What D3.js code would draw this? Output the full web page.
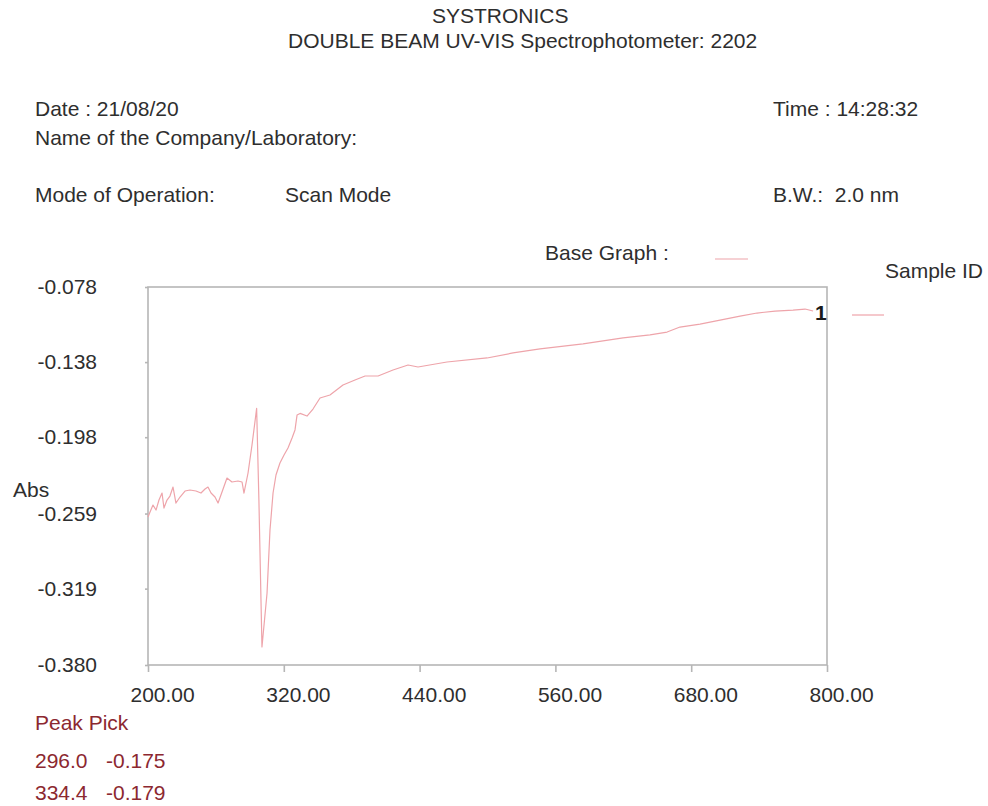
<!DOCTYPE html>
<html>
<head>
<meta charset="utf-8">
<script src="https://cdn.jsdelivr.net/npm/d3@7"></script>
<style>
  html, body { margin: 0; padding: 0; background: #fff; }
  svg { display: block; font-family: "Liberation Sans", Arial, sans-serif; }
  text { white-space: pre; }
</style>
</head>
<body>
<svg id="chart" width="988" height="806"></svg>
<script>
// Scan: wavelength (nm) against absorbance
const wavelength = [
  200.0, 201.8, 204.4, 207.1, 209.7, 212.4, 214.1, 216.8, 219.4, 222.1,
  224.7, 228.3, 232.7, 237.1, 242.4, 246.8, 250.4, 253.0, 255.7, 259.2,
  261.9, 265.4, 269.8, 274.2, 279.5, 283.1, 284.8, 288.4, 291.9, 296.0,
  298.0, 300.7, 305.2, 307.8, 310.5, 313.1, 316.6, 320.2, 323.7, 327.3,
  329.9, 331.7, 334.4, 340.5, 345.8, 352.0, 360.8, 372.3, 382.9, 391.8,
  403.3, 416.5, 429.8, 438.6, 464.2, 499.6, 522.6, 546.4, 584.4, 619.8,
  643.6, 658.7, 670.1, 687.8, 705.5, 723.2, 738.2, 754.1, 770.0, 780.6,
  787.7
];
const absorbance = [
  -0.2618, -0.2578, -0.2522, -0.2562, -0.2482, -0.2426, -0.2546, -0.2482, -0.2450, -0.2378,
  -0.2506, -0.2458, -0.2410, -0.2402, -0.2410, -0.2426, -0.2394, -0.2378, -0.2426, -0.2458,
  -0.2506, -0.2418, -0.2306, -0.2338, -0.2330, -0.2338, -0.2426, -0.2266, -0.2042, -0.1750,
  -0.2482, -0.3656, -0.3225, -0.2722, -0.2426, -0.2282, -0.2186, -0.2122, -0.2066, -0.1986,
  -0.1922, -0.1803, -0.1790, -0.1811, -0.1755, -0.1667, -0.1643, -0.1563, -0.1523, -0.1491,
  -0.1491, -0.1443, -0.1403, -0.1419, -0.1379, -0.1347, -0.1307, -0.1275, -0.1235, -0.1187,
  -0.1163, -0.1140, -0.1100, -0.1076, -0.1044, -0.1012, -0.0988, -0.0972, -0.0964, -0.0956,
  -0.0972
];

const xTickLabels = ["200.00", "320.00", "440.00", "560.00", "680.00", "800.00"];
const yTickLabels = ["-0.078", "-0.138", "-0.198", "-0.259", "-0.319", "-0.380"];

// Peak pick table: wavelength, absorbance
const peakWavelength = ["296.0", "334.4"];
const peakAbsorbance = ["-0.175", "-0.179"];

const svg = d3.select("#chart");
const textColor = "#2e2e2e";
const traceColor = "#eea4aa";
const frameColor = "#b6b6b6";
const peakColor = "#8c2830";
const fontSize = 21;

const plot = { left: 148, right: 827, top: 287, bottom: 665 };

const x = d3.scaleLinear().domain([200, 800]).range([plot.left, plot.right]);
const y = d3.scaleLinear().domain([-0.380, -0.078]).range([plot.bottom, plot.top]);

// Header block
const header = svg.append("g").attr("fill", textColor).attr("font-size", fontSize);
header.append("text").attr("x", 432).attr("y", 23).text("SYSTRONICS");
header.append("text").attr("x", 288).attr("y", 48)
  .text("DOUBLE BEAM UV-VIS Spectrophotometer: 2202");
header.append("text").attr("x", 35).attr("y", 116).text("Date : 21/08/20");
header.append("text").attr("x", 773).attr("y", 116).text("Time : 14:28:32");
header.append("text").attr("x", 35).attr("y", 145).text("Name of the Company/Laboratory:");
header.append("text").attr("x", 35).attr("y", 202).text("Mode of Operation:");
header.append("text").attr("x", 285).attr("y", 202).text("Scan Mode");
header.append("text").attr("x", 773).attr("y", 202).text("B.W.:  2.0 nm");
header.append("text").attr("x", 545).attr("y", 260).text("Base Graph :");
header.append("text").attr("x", 885).attr("y", 278).text("Sample ID");

// Legend swatches
svg.append("line").attr("x1", 715).attr("x2", 748).attr("y1", 259).attr("y2", 259)
  .attr("stroke", traceColor).attr("stroke-width", 1.2);
svg.append("line").attr("x1", 852).attr("x2", 884).attr("y1", 315).attr("y2", 315)
  .attr("stroke", traceColor).attr("stroke-width", 1.2);

// Frame
svg.append("rect")
  .attr("x", plot.left).attr("y", plot.top)
  .attr("width", plot.right - plot.left).attr("height", plot.bottom - plot.top)
  .attr("fill", "none").attr("stroke", frameColor).attr("stroke-width", 1.6);

// Axes
const xAxis = d3.axisBottom(x)
  .tickValues(xTickLabels.map(Number))
  .tickFormat((d, i) => xTickLabels[i])
  .tickSize(7).tickPadding(18);
const gx = svg.append("g").attr("transform", `translate(0,${plot.bottom})`).call(xAxis);

const yAxis = d3.axisLeft(y)
  .tickValues(yTickLabels.map(Number))
  .tickFormat((d, i) => yTickLabels[i])
  .tickSize(3).tickPadding(48);
const gy = svg.append("g").attr("transform", `translate(${plot.left},0)`).call(yAxis);

[gx, gy].forEach(g => {
  g.select(".domain").remove();
  g.selectAll(".tick line").attr("stroke", frameColor).attr("stroke-width", 1.6);
  g.selectAll(".tick text").attr("fill", textColor).attr("font-size", fontSize)
    .attr("font-family", "Liberation Sans, Arial, sans-serif");
});
// x labels sit slightly right of their ticks
gx.selectAll(".tick text").attr("text-anchor", "start").attr("x", -18).attr("dy", "0.55em");

svg.append("text").attr("x", 13).attr("y", 497).attr("fill", textColor)
  .attr("font-size", fontSize).text("Abs");

// Trace
const points = wavelength.map((w, i) => [w, absorbance[i]]);
const line = d3.line().x(d => x(d[0])).y(d => y(d[1]));
svg.append("path").datum(points)
  .attr("d", line)
  .attr("fill", "none")
  .attr("stroke", traceColor)
  .attr("stroke-width", 1.2)
  .attr("stroke-linejoin", "round");

// Sample label at the end of the trace
svg.append("text").attr("x", 815).attr("y", 320).attr("fill", "#1a1a1a")
  .attr("font-size", fontSize).attr("font-weight", "bold").text("1");

// Peak pick listing
const peaks = svg.append("g").attr("fill", peakColor).attr("font-size", fontSize);
peaks.append("text").attr("x", 35).attr("y", 730).text("Peak Pick");
peakWavelength.forEach((w, i) => {
  const row = peaks.append("text").attr("y", 768 + i * 32);
  row.append("tspan").attr("x", 35).text(w);
  row.append("tspan").attr("x", 106).text(peakAbsorbance[i]);
});
</script>
</body>
</html>
